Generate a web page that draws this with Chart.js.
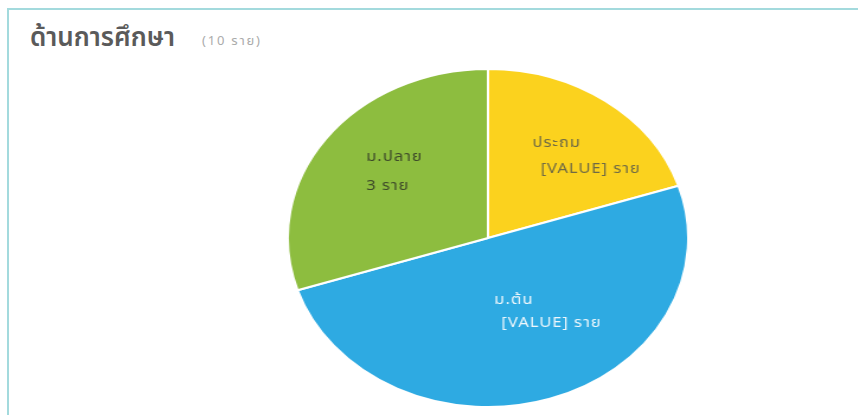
<!DOCTYPE html>
<html>
<head>
<meta charset="utf-8">
<script src="https://cdn.jsdelivr.net/npm/chart.js@4/dist/chart.umd.min.js"></script>
<style>
  html, body { margin: 0; padding: 0; background: #fff; }
  #stage { position: relative; width: 858px; height: 415px; overflow: hidden; background: #fff; }
  #frame { position: absolute; left: 7px; top: 8px; width: 900px; height: 500px; border: 2px solid #a3dadd; box-sizing: border-box; }
  #title { position: absolute; left: 30px; top: 18px; font-family: "Noto Sans", "Noto Sans Thai", sans-serif; white-space: nowrap; }
  #title .main { font-size: 26px; font-weight: 600; color: #5a5a5a; display: inline-block; }
  #title .sub { position: absolute; left: 172px; top: 13px; font-size: 13px; letter-spacing: 1.8px; color: #ababab; }
  #pieBox { position: absolute; left: 318px; top: 68px; width: 340px; height: 340px; transform-origin: 50% 50%; transform: scaleX(1.185); }
</style>
</head>
<body>
<div id="stage">
  <div id="frame"></div>
  <div id="title"><span class="main">ด้านการศึกษา</span><span class="sub">(10 ราย)</span></div>
  <div id="pieBox"><canvas id="c"></canvas></div>
</div>
<script>
const categories = ['ประถม', 'ม.ต้น', 'ม.ปลาย'];
const values = [2, 5, 3];
const valueTexts = ['[VALUE]', '[VALUE]', '3'];
const unitText = 'ราย';

const sliceColors = ['#fbd21e', '#2eaae2', '#8dbd3f'];
const labelColors = ['#6f6a45', '#eef7fc', '#3e4a2a'];
const labelPlacement = [
  { da: 9.5, rf: 0.69, indent: [0, 7], lh: 26 },
  { da: -16.4, rf: 0.53, indent: [0, 6], lh: 23 },
  { da: 4, rf: 0.61, indent: [0, 0], lh: 29 }
];

const sliceLabels = {
  id: 'sliceLabels',
  afterDatasetsDraw(chart) {
    const ctx = chart.ctx;
    const meta = chart.getDatasetMeta(0);
    ctx.save();
    ctx.font = '14px "Noto Sans", "Noto Sans Thai", sans-serif';
    if ('letterSpacing' in ctx) ctx.letterSpacing = '0.8px';
    ctx.textBaseline = 'middle';
    ctx.textAlign = 'left';
    meta.data.forEach((arc, i) => {
      const p = arc.getProps(['x', 'y', 'startAngle', 'endAngle', 'outerRadius'], true);
      const pl = labelPlacement[i];
      const mid = (p.startAngle + p.endAngle) / 2 + pl.da * Math.PI / 180;
      const r = p.outerRadius * pl.rf;
      const ax = p.x + Math.cos(mid) * r;
      const ay = p.y + Math.sin(mid) * r;
      const lines = [categories[i], valueTexts[i] + ' ' + unitText];
      const widths = lines.map((t, k) => pl.indent[k] + ctx.measureText(t).width);
      const bw = Math.max(...widths);
      const left = ax - bw / 2;
      const top = ay - (lines.length - 1) * pl.lh / 2;
      ctx.fillStyle = labelColors[i];
      lines.forEach((t, k) => ctx.fillText(t, left + pl.indent[k], top + k * pl.lh));
    });
    ctx.restore();
  }
};

new Chart(document.getElementById('c'), {
  type: 'pie',
  data: {
    labels: categories,
    datasets: [{
      data: values,
      backgroundColor: sliceColors,
      borderColor: '#ffffff',
      borderWidth: 2
    }]
  },
  options: {
    responsive: true,
    maintainAspectRatio: false,
    animation: false,
    layout: { padding: 0 },
    plugins: { legend: { display: false }, tooltip: { enabled: false } }
  },
  plugins: [sliceLabels]
});
</script>
</body>
</html>
